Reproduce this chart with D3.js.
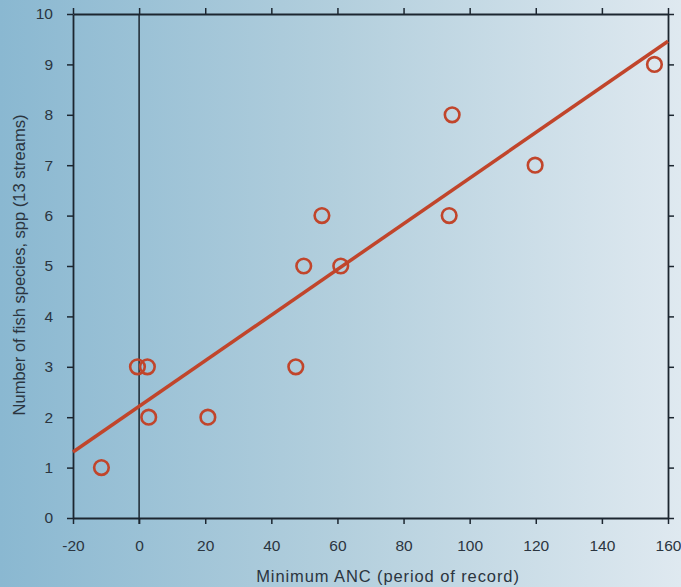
<!DOCTYPE html>
<html><head><meta charset="utf-8">
<script src="https://cdn.jsdelivr.net/npm/d3@7"></script>
<style>body{margin:0;}svg{display:block;}</style>
</head><body>
<script>
const anc = [-11.4, -0.5, 2.5, 2.9, 20.8, 47.4, 49.8, 55.3, 61, 93.8, 94.7, 119.8, 155.9];
const spp = [1, 3, 3, 2, 2, 3, 5, 6, 5, 6, 8, 7, 9];
const fitX = [-20, 160];
const fitY = [1.31, 9.46];
const xTicks = [-20, 0, 20, 40, 60, 80, 100, 120, 140, 160];
const yTicks = [0,1,2,3,4,5,6,7,8,9,10];

const W = 681, H = 587;
const svg = d3.select("body").append("svg").attr("width", W).attr("height", H);
const defs = svg.append("defs");
const g = defs.append("linearGradient").attr("id","bg").attr("x1","0").attr("x2","1").attr("y1","0").attr("y2","0");
g.append("stop").attr("offset","0").attr("stop-color","#8ab8d1");
g.append("stop").attr("offset","0.5").attr("stop-color","#b3cfdd");
g.append("stop").attr("offset","1").attr("stop-color","#dfe9f0");
svg.append("rect").attr("width",W).attr("height",H).attr("fill","url(#bg)");

const m = {l:73, r:668, t:14, b:518};
const x = d3.scaleLinear().domain([-20,160]).range([m.l, m.r]);
const y = d3.scaleLinear().domain([0,10]).range([m.b, m.t]);

const font = "Helvetica, Arial, 'Liberation Sans', sans-serif";
function style(sel, showLabels){
  sel.select(".domain").attr("stroke","#1c2630").attr("stroke-width",1.8);
  sel.selectAll(".tick line").attr("stroke","#1c2630").attr("stroke-width",1.5);
  sel.selectAll(".tick text").attr("fill","#2b3540").attr("font-size","15.5px").attr("font-family",font);
  if(!showLabels) sel.selectAll(".tick text").remove();
}
const fmt = (d) => String(d);
style(svg.append("g").attr("transform",`translate(0,${m.b})`).call(d3.axisBottom(x).tickValues(xTicks).tickFormat(fmt).tickSize(6).tickPadding(16).tickSizeOuter(0)), true);
style(svg.append("g").attr("transform",`translate(0,${m.t})`).call(d3.axisTop(x).tickValues(xTicks).tickSize(6).tickSizeOuter(0)), false);
style(svg.append("g").attr("transform",`translate(${m.l},0)`).call(d3.axisLeft(y).tickValues(yTicks).tickFormat(fmt).tickSize(6).tickPadding(14).tickSizeOuter(0)), true);
style(svg.append("g").attr("transform",`translate(${m.r},0)`).call(d3.axisRight(y).tickValues(yTicks).tickSize(6).tickSizeOuter(0)), false);

// zero line
svg.append("line").attr("x1",x(0)).attr("x2",x(0)).attr("y1",m.t).attr("y2",m.b+6)
  .attr("stroke","#1c2630").attr("stroke-width",1.5);

// fit line
svg.append("line").attr("x1",x(fitX[0])).attr("y1",y(fitY[0])).attr("x2",x(fitX[1])).attr("y2",y(fitY[1]))
  .attr("stroke","#c1452b").attr("stroke-width",3.5);

svg.append("g").selectAll("circle").data(anc).join("circle")
  .attr("cx",(d)=>x(d)).attr("cy",(d,i)=>y(spp[i])).attr("r",7.3)
  .attr("fill","none").attr("stroke","#c1452b").attr("stroke-width",2.6);

svg.append("text").attr("x",388).attr("y",582).attr("text-anchor","middle")
  .attr("font-family",font).attr("font-size","16.5px").attr("letter-spacing","0.9px").attr("fill","#2b3540")
  .text("Minimum ANC (period of record)");
svg.append("text").attr("transform",`translate(25,265) rotate(-90)`).attr("text-anchor","middle")
  .attr("font-family",font).attr("font-size","16.5px").attr("fill","#2b3540")
  .text("Number of fish species, spp (13 streams)");
</script>
</body></html>
